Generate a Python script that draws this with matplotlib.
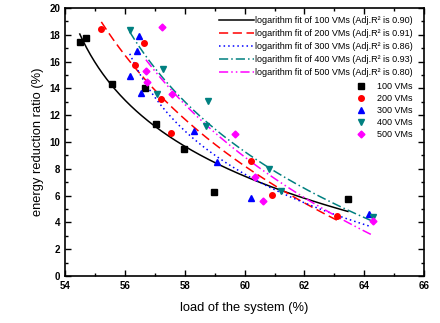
import numpy as np
import matplotlib
matplotlib.use('Agg')
from matplotlib import pyplot as plt

plt.rcParams['font.family'] = ['Liberation Sans', 'DejaVu Sans']

# data
vm_labels = ['100 VMs', '200 VMs', '300 VMs', '400 VMs', '500 VMs']
r2_values = ['0.90', '0.91', '0.86', '0.93', '0.80']

load_100 = [54.49, 54.71, 55.57, 56.66, 57.04, 57.98, 58.99, 63.45]
red_100 = [17.46, 17.78, 14.30, 14.05, 11.34, 9.50, 6.29, 5.75]

load_200 = [55.21, 56.33, 56.62, 57.20, 57.55, 60.22, 60.90, 63.08]
red_200 = [18.41, 15.77, 17.39, 13.23, 10.67, 8.60, 6.07, 4.45]

load_300 = [56.16, 56.40, 56.48, 56.54, 58.30, 59.08, 60.22, 64.15]
red_300 = [14.90, 16.81, 17.91, 13.66, 10.80, 8.48, 5.80, 4.63]

load_400 = [56.16, 57.06, 57.28, 58.71, 58.79, 60.81, 61.20, 64.30]
red_400 = [18.36, 13.56, 15.45, 11.22, 13.08, 7.99, 6.34, 4.38]

load_500 = [56.70, 56.72, 57.23, 57.56, 59.68, 60.36, 60.60, 64.30]
red_500 = [15.30, 14.50, 18.60, 13.56, 10.57, 7.37, 5.62, 4.08]

# logarithm fit y = a - b*ln(x - c), parameters estimated from the drawn curves
fit_a = [19.788, 36.548, 18.341, 29.369, 37.298]
fit_b = [6.427, 13.179, 6.550, 10.543, 13.658]
fit_c = [53.182, 51.414, 54.853, 53.281, 51.994]

loads = [load_100, load_200, load_300, load_400, load_500]
reds = [red_100, red_200, red_300, red_400, red_500]

colors = ['black', '#FF0000', '#0000FF', '#008080', '#FF00FF']
markers = ['s', 'o', '^', 'v', 'D']
styles = ['-', (0, (6, 3)), (0, (1, 2)), (0, (6, 2, 1, 2)), (0, (6, 2, 1, 2, 1, 2))]

fig = plt.figure(figsize=(4.4, 3.23), dpi=100)
ax = fig.add_axes([0.148, 0.1455, 0.816, 0.8295])

line_handles = []
mark_handles = []
for i in range(5):
    xs = np.linspace(min(loads[i]), max(loads[i]), 200)
    ys = fit_a[i] - fit_b[i] * np.log(xs - fit_c[i])
    lh, = ax.plot(xs, ys, color=colors[i], linestyle=styles[i], lw=1.1,
                  label=f'logarithm fit of {vm_labels[i]} (Adj.R\u00b2 is {r2_values[i]})')
    line_handles.append(lh)
for i in range(5):
    mh, = ax.plot(loads[i], reds[i], linestyle='none', marker=markers[i], color=colors[i],
                  ms=4 if markers[i] != 'D' else 3.5, label=vm_labels[i])
    mark_handles.append(mh)

ax.set_xlim(54, 66)
ax.set_ylim(0, 20)
ax.set_xticks(np.arange(54, 67, 2))
ax.set_xticks(np.arange(54, 67, 1), minor=True)
ax.set_yticks(np.arange(0, 21, 2))
ax.set_yticks(np.arange(0, 21, 1), minor=True)
ax.tick_params(which='both', direction='in', top=True, right=True, labelsize=7, width=1)
ax.tick_params(which='major', length=4)
ax.tick_params(which='minor', length=2)
for lab in ax.get_xticklabels() + ax.get_yticklabels():
    lab.set_fontweight('bold')
for s in ax.spines.values():
    s.set_linewidth(1.2)

ax.set_xlabel('load of the system (%)', fontsize=9.3, labelpad=8)
ax.set_ylabel('energy reduction ratio (%)', fontsize=9.3, labelpad=4)

leg1 = ax.legend(handles=line_handles, loc='upper right', bbox_to_anchor=(0.967, 0.97),
                 frameon=False, fontsize=6.5, handlelength=3.8, handletextpad=0.1,
                 labelspacing=0.45, borderaxespad=0, borderpad=0)
ax.add_artist(leg1)
ax.legend(handles=mark_handles, loc='upper right', bbox_to_anchor=(0.967, 0.725),
          frameon=False, fontsize=6.5, handlelength=1, handletextpad=1.2,
          labelspacing=0.35, borderaxespad=0, borderpad=0)

fig.savefig('out.png', dpi=100)
